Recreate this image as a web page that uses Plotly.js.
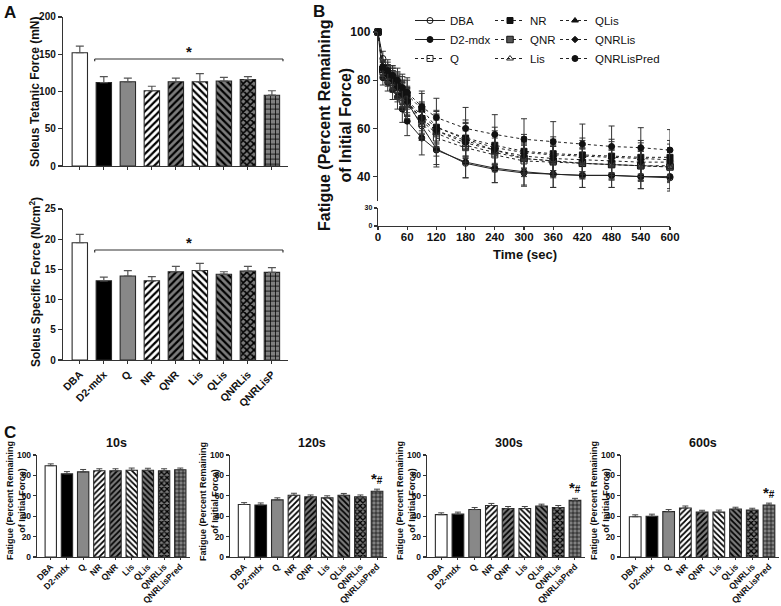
<!DOCTYPE html>
<html><head><meta charset="utf-8">
<script src="https://cdn.plot.ly/plotly-3.0.1.min.js"></script>
<style>html,body{margin:0;padding:0;background:#fff}#chart{width:781px;height:606px}</style>
</head><body><div id="chart"></div>
<script>
// ---------- DATA ----------
const groupsA = ['DBA','D2-mdx','Q','NR','QNR','Lis','QLis','QNRLis','QNRLisP'];
const tetanicForce = [152,112,113,101,113,113,114,116,95];
const tetanicErr   = [9,8,5,6,5,11,5,4,6];
const tetanicTicks = [0,50,100,150,200];
const specificForce = [19.4,13.1,13.9,13.1,14.6,14.8,14.2,14.7,14.5];
const specificErr   = [1.4,0.6,0.9,0.7,0.9,1.2,0.4,0.8,0.8];
const specificTicks = [0,5,10,15,20,25];

const groupsC = ['DBA','D2-mdx','Q','NR','QNR','Lis','QLis','QNRLis','QNRLisPred'];
const fatigue10s  = [89.5,81.5,83.5,84.5,84.5,85,85,84.5,85.5];
const err10s      = [1.8,2.2,2.3,2.0,2.0,2.2,2.0,2.0,1.7];
const fatigue120s = [51.5,51,56,60.5,59,58,60.5,59,64.5];
const err120s     = [1.8,2.0,2.0,2.0,1.8,2.0,1.8,1.8,2.0];
const fatigue300s = [41.5,42,46.5,50.5,47.5,47.5,50,48.5,55.5];
const err300s     = [1.8,2.0,2.0,2.0,2.0,2.0,1.8,2.0,2.0];
const fatigue600s = [39.5,40,44.5,48,44,44,47,46,51];
const err600s     = [1.8,2.0,2.0,2.0,1.8,2.0,1.8,1.8,1.8];
const noLowerErr  = [0,0,0,0,0,0,0,0,0];
const panelCTitles = ['10s','120s','300s','600s'];
const panelCTicks = [0,20,40,60,80,100];

const timeSec = [0,10,20,30,40,50,60,90,120,180,240,300,360,420,480,540,600];
const timeTicks = [0,60,120,180,240,300,360,420,480,540,600];
const fatigueDBA    = [100,89,85,82,79,75,71,61,51.5,45.5,43,41.5,41,40.5,40.5,40,39.5];
const fatigueD2mdx  = [100,81,79,76,73,68,63,56,51,46,43.5,42,41,40.5,40.5,40,40];
const fatigueQ      = [100,83.5,81,79,76,73,70,62,56,52,49,46.5,46,45.5,45,44.5,44.5];
const fatigueNR     = [100,84.5,83,81,78,76,74,68,60.5,56,53,50.5,49.5,49,48.5,48,48];
const fatigueQNR    = [100,84.5,82,80,77,74,71,64,59,55,51,47.5,46.5,45.5,45,44.5,44];
const fatigueLis    = [100,85,82,80,77,74,71,63,58,53,50,47.5,46.5,45.5,45,44.5,44];
const fatigueQLis   = [100,85,83,81,78,75,72,65,60.5,55.5,52,50,49,48.5,48,47.5,47];
const fatigueQNRLis = [100,84.5,82,80,77,74,71,64,59,54,51,48.5,47.5,47,46.5,46,46];
const fatiguePred   = [100,85.5,84,82,80,77,75,69,64.5,60,57.5,55.5,54.5,53.5,52.5,52,51];
const sdDBA    = [0,3,3.5,4,4.5,5,5.5,6,6.5,6,5.5,5.5,5.5,5,5,5,5.5];
const sdD2mdx  = [0,3,3.5,4,5,5.5,6,7,7,6.5,6,5.5,5.5,5,5,5,5];
const sdQ      = [0,3,3.5,4,5,5.5,6,7,7.5,7,7,6.5,6.5,6,6,6,6];
const sdNR     = [0,3,3.5,4,5,5.5,6,6.5,7,7.5,7.5,7,7,7,7,7,7];
const sdQNR    = [0,3,3,4,4.5,5,6,6.5,7,7,6.5,6,6,6,6,6,6];
const sdLis    = [0,3,3.5,4,5,5.5,6,7,7.5,7,7,6.5,6.5,6.5,6.5,6.5,6.5];
const sdQLis   = [0,3,3.5,4,4.5,5,5.5,6,6.5,7,7,6.5,6.5,6.5,6.5,6.5,6.5];
const sdQNRLis = [0,3,3,3.5,4.5,5,5.5,6,6.5,6.5,6,6,6,6,6,6,6];
const sdPred   = [0,3,3.5,4,5,5.5,6,6.5,8,8.7,8.2,8.5,8.3,8.3,8.5,8.3,8.5];

// ---------- STYLE ----------
const F = 'Liberation Sans, Arial, Helvetica, sans-serif';
const W = 781, H = 606;
const PX = x => x / W, PY = y => 1 - y / H;
const dom = (top, bottom) => [PY(bottom), PY(top)];
const AX = '#333';

// every bar gets a pattern; solid bars use identical fg/bg colours
const barBg     = ['#ffffff','#000000','#888888','#ffffff','#7c7c7c','#ffffff','#7c7c7c','#7a7a7a','#808080'];
const barShape  = ['/','/','/','/','/','\\','\\','x','+'];
const barFg     = ['#ffffff','#000000','#888888','#000000','#000000','#000000','#000000','#000000','#000000'];
const barSolid  = [0.3,0.3,0.3,0.45,0.45,0.45,0.45,0.55,0.28];

function barMarker(sz){
  return {color:'#888888', line:{color:'#2a2a2a', width:1.1},
    pattern:{shape: barShape, bgcolor: barBg, fgcolor: barFg, fgopacity:1, size: sz, solidity: barSolid}};
}
function valAx(o){
  return Object.assign({showgrid:false, zeroline:false, showline:true, linecolor:AX, linewidth:1.2,
    ticks:'outside', ticklen:4, tickwidth:1.2, tickcolor:AX, fixedrange:true, ticklabeloverflow:'allow',
    tickfont:{family:F, size:10, color:'#111', weight:'bold'}}, o);
}
function catAx(o){
  return Object.assign({type:'category', showgrid:false, zeroline:false, showline:true, linecolor:AX, linewidth:1.2,
    ticks:'outside', ticklen:3, tickwidth:1, tickcolor:AX, fixedrange:true, tickangle:-45, dtick:1,
    ticklabeloverflow:'allow', tickfont:{family:F, size:10.5, color:'#111', weight:'bold'}}, o);
}
function label(x, y, text, size, extra){
  return Object.assign({xref:'paper', yref:'paper', x:PX(x), y:PY(y), xanchor:'center', yanchor:'middle',
    showarrow:false, text:text, font:{family:F, size:size, color:'#111'}}, extra || {});
}

const traces = [];
const annotations = [];
const shapes = [];

// ---------- PANEL A ----------
traces.push({type:'bar', x:groupsA, y:tetanicForce, xaxis:'x', yaxis:'y', width:0.64, showlegend:false,
  marker:barMarker(5),
  error_y:{type:'data', symmetric:false, array:tetanicErr, arrayminus:noLowerErr, color:'#555', thickness:1.2, width:4}});
traces.push({type:'bar', x:groupsA, y:specificForce, xaxis:'x2', yaxis:'y2', width:0.64, showlegend:false,
  marker:barMarker(5),
  error_y:{type:'data', symmetric:false, array:specificErr, arrayminus:noLowerErr, color:'#555', thickness:1.2, width:4}});

[['x','y',143.6,140.5],['x2','y2',18.2,17.8]].forEach(([xr,yr,yl,yt])=>{
  shapes.push({type:'line', xref:xr, yref:yr, x0:0.62, x1:8.46, y0:yl, y1:yl, line:{color:'#333', width:1.2}});
  shapes.push({type:'line', xref:xr, yref:yr, x0:0.62, x1:0.62, y0:yl, y1:yt, line:{color:'#333', width:1.2}});
  shapes.push({type:'line', xref:xr, yref:yr, x0:8.46, x1:8.46, y0:yl, y1:yt, line:{color:'#333', width:1.2}});
  annotations.push({xref:xr, yref:yr, x:4.55, y:yl, xanchor:'center', yanchor:'bottom', yshift:-3, showarrow:false,
    text:'<b>*</b>', font:{family:F, size:15, color:'#111'}});
});

// ---------- PANEL B ----------
const seriesB = [
  {name:'DBA',        y:fatigueDBA,    e:sdDBA,    lg:'legend',  sym:'circle-open',      col:'#111', dash:'solid', size:6},
  {name:'D2-mdx',     y:fatigueD2mdx,  e:sdD2mdx,  lg:'legend',  sym:'circle',           col:'#111', dash:'solid', size:6},
  {name:'Q',          y:fatigueQ,      e:sdQ,      lg:'legend',  sym:'square-open',      col:'#222', dash:'dot',   size:6},
  {name:'NR',         y:fatigueNR,     e:sdNR,     lg:'legend2', sym:'square',           col:'#111', dash:'dot',   size:6},
  {name:'QNR',        y:fatigueQNR,    e:sdQNR,    lg:'legend2', sym:'square',           col:'#555', dash:'dot',   size:6.5},
  {name:'Lis',        y:fatigueLis,    e:sdLis,    lg:'legend2', sym:'triangle-up-open', col:'#222', dash:'dot',   size:6},
  {name:'QLis',       y:fatigueQLis,   e:sdQLis,   lg:'legend3', sym:'triangle-up',      col:'#111', dash:'dot',   size:6},
  {name:'QNRLis',     y:fatigueQNRLis, e:sdQNRLis, lg:'legend3', sym:'diamond',          col:'#111', dash:'dot',   size:5},
  {name:'QNRLisPred', y:fatiguePred,   e:sdPred,   lg:'legend3', sym:'circle',           col:'#111', dash:'dot',   size:6}
];
seriesB.forEach(s=>{
  traces.push({type:'scatter', mode:'lines+markers', name:s.name, x:timeSec, y:s.y, xaxis:'x3', yaxis:'y3',
    legend:s.lg, cliponaxis:false,
    line:{color:'#222', width:1, dash:s.dash},
    marker:{symbol:s.sym, size:s.size, color:s.col, line:{color:'#111', width:1}},
    error_y:{type:'data', array:s.e, visible:true, color:'#333', thickness:1, width:3}});
});
// lower segment of the broken axis (no data there)
traces.push({type:'scatter', mode:'markers', x:[], y:[], xaxis:'x3', yaxis:'y4', showlegend:false, hoverinfo:'skip'});

// ---------- LAYOUT ----------
const legendBase = {yanchor:'top', xanchor:'left', itemwidth:30, tracegroupgap:0, borderwidth:0,
  bgcolor:'rgba(0,0,0,0)', font:{family:F, size:11.5, color:'#111'}};
const layout = {
  width:W, height:H, margin:{l:0,r:0,t:0,b:0}, paper_bgcolor:'#fff', plot_bgcolor:'rgba(0,0,0,0)',
  font:{family:F, color:'#111'}, showlegend:true,
  xaxis: catAx({domain:[PX(63),PX(288)], anchor:'y', range:[-0.7,8.67], showticklabels:false}),
  yaxis: valAx({domain:dom(16.6,166), anchor:'x', range:[0,200.5], tickvals:tetanicTicks}),
  xaxis2: catAx({domain:[PX(63),PX(288)], anchor:'y2', range:[-0.7,8.67]}),
  yaxis2: valAx({domain:dom(208.6,360), anchor:'x2', range:[0,25.05], tickvals:specificTicks}),
  xaxis3: valAx({domain:[PX(378),PX(670)], anchor:'y4', range:[0,600], tickvals:timeTicks, ticklen:3,
    ticklabelstandoff:-3, tickfont:{family:F, size:11.5, color:'#111', weight:'bold'}}),
  yaxis3: valAx({domain:dom(32,200.7), anchor:'x3', range:[30,100], tickvals:[40,60,80,100],
    tickfont:{family:F, size:12, color:'#111', weight:'bold'}}),
  yaxis4: valAx({domain:dom(208,226), anchor:'x3', range:[0,30], tickvals:[0,30], ticklen:3,
    tickfont:{family:F, size:7, color:'#111', weight:'bold'}}),
  legend:  Object.assign({x:PX(410), y:PY(6)}, legendBase),
  legend2: Object.assign({x:PX(490), y:PY(6)}, legendBase),
  legend3: Object.assign({x:PX(555), y:PY(6)}, legendBase),
  annotations: annotations, shapes: shapes
};

// ---------- PANEL C ----------
const cData = [fatigue10s, fatigue120s, fatigue300s, fatigue600s];
const cErr  = [err10s, err120s, err300s, err600s];
const cDom  = [[37,190],[230,387],[427,585],[621,779]];
const cStar = [false, true, true, true];

cData.forEach((vals,i)=>{
  const n = i + 5;
  const xa = 'x' + n, ya = 'y' + n;
  traces.push({type:'bar', x:groupsC, y:vals, xaxis:xa, yaxis:ya, width:0.7, showlegend:false,
    marker:barMarker(4),
    error_y:{type:'data', symmetric:false, array:cErr[i], arrayminus:noLowerErr, color:'#444', thickness:1, width:3}});
  layout['xaxis'+n] = catAx({domain:[PX(cDom[i][0]),PX(cDom[i][1])], anchor:ya, range:[-0.85,8.6], ticklen:2,
    ticklabelstandoff:-2, tickfont:{family:F, size:8.8, color:'#111', weight:'bold'}});
  layout['yaxis'+n] = valAx({domain:dom(455,557), anchor:xa, range:[0,100], tickvals:panelCTicks, ticklen:3,
    tickfont:{family:F, size:8.5, color:'#111', weight:'bold'}});
  annotations.push(label((cDom[i][0]+cDom[i][1])/2 + 3, 443, '<b>'+panelCTitles[i]+'</b>', 12.5));
  annotations.push(label(cDom[i][0]-21, 501, '<b>Fatigue (Percent Remaining<br>of Initial Force)</b>', 9, {textangle:-90}));
  if(cStar[i]){
    annotations.push({xref:xa, yref:ya, x:8, y:vals[8]+cErr[i][8], xanchor:'center', yanchor:'bottom', yshift:0, showarrow:false,
      text:'<b><span style="font-size:15px">*</span><span style="font-size:10px">#</span></b>', font:{family:F, size:15, color:'#111'}});
  }
});

// ---------- TITLES / LABELS ----------
annotations.push(
  label(2, 1, '<b>A</b>', 17, {xanchor:'left', yanchor:'top'}),
  label(311, 0, '<b>B</b>', 17, {xanchor:'left', yanchor:'top'}),
  label(2, 421, '<b>C</b>', 17, {xanchor:'left', yanchor:'top'}),
  label(35, 92, '<b>Soleus Tetanic Force (mN)</b>', 12, {textangle:-90}),
  label(35, 282, '<b>Soleus Specific Force (N/cm<sup>2</sup>)</b>', 12, {textangle:-90}),
  label(335, 125, '<b>Fatigue (Percent Remaining<br>of Initial Force)</b>', 16, {textangle:-90}),
  label(525, 254, '<b>Time (sec)</b>', 13)
);

Plotly.newPlot('chart', traces, layout, {displayModeBar:false, staticPlot:true});
</script>
</body></html>
